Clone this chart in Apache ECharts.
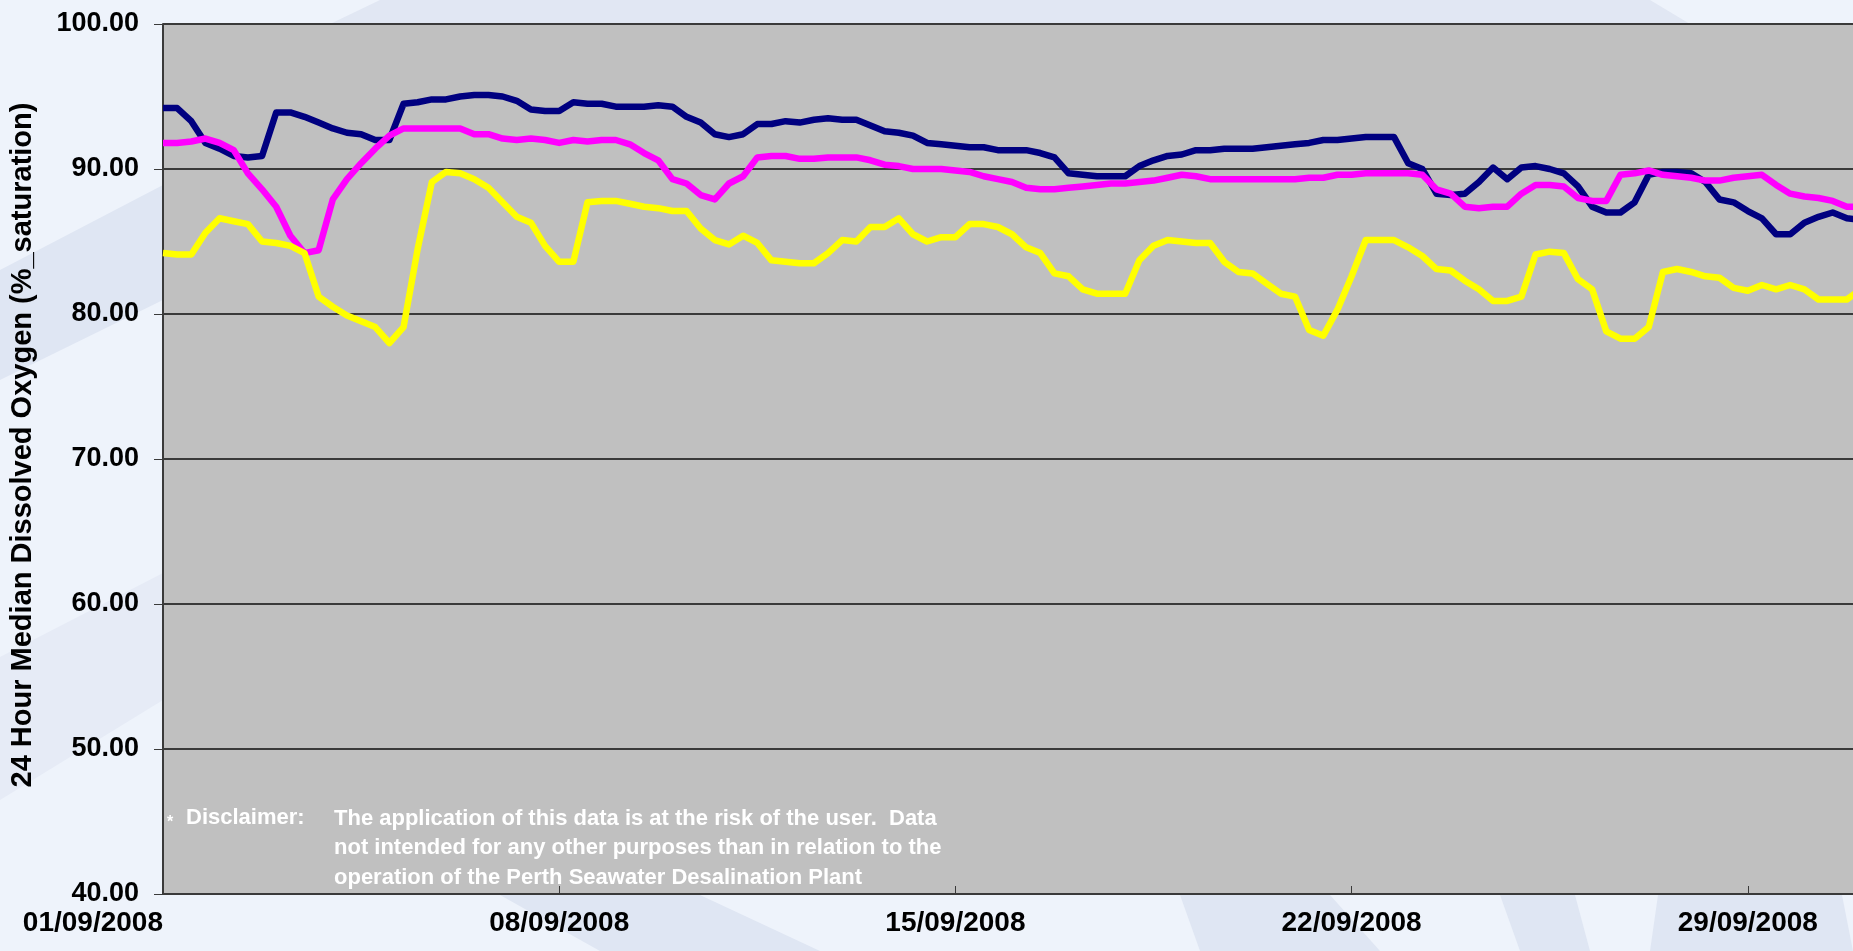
<!DOCTYPE html>
<html>
<head>
<meta charset="utf-8">
<title>24 Hour Median Dissolved Oxygen</title>
<script src="https://cdn.jsdelivr.net/npm/echarts@6.0.0/dist/echarts.min.js"></script>
<style>
  html, body { margin: 0; padding: 0; background: #eef3fb; }
  #chart { width: 1853px; height: 951px; }
</style>
</head>
<body>
<div id="chart"></div>
<script>
// x tick labels, one every 7 days from 01/09/2008
const tickLabels = ['01/09/2008', '08/09/2008', '15/09/2008', '22/09/2008', '29/09/2008']

// readings every 6 hours (0.25 day) from 01/09/2008 00:00 to 01/10/2008 00:00
const stepDays = 0.25

const navy = [
  94.2, 94.2, 93.3, 91.8, 91.4, 90.9, 90.8, 90.9, 93.9, 93.9, 93.6, 93.2,
  92.8, 92.5, 92.4, 92.0, 92.0, 94.5, 94.6, 94.8, 94.8, 95.0, 95.1, 95.1,
  95.0, 94.7, 94.1, 94.0, 94.0, 94.6, 94.5, 94.5, 94.3, 94.3, 94.3, 94.4,
  94.3, 93.6, 93.2, 92.4, 92.2, 92.4, 93.1, 93.1, 93.3, 93.2, 93.4, 93.5,
  93.4, 93.4, 93.0, 92.6, 92.5, 92.3, 91.8, 91.7, 91.6, 91.5, 91.5, 91.3,
  91.3, 91.3, 91.1, 90.8, 89.7, 89.6, 89.5, 89.5, 89.5, 90.2, 90.6, 90.9,
  91.0, 91.3, 91.3, 91.4, 91.4, 91.4, 91.5, 91.6, 91.7, 91.8, 92.0, 92.0,
  92.1, 92.2, 92.2, 92.2, 90.4, 90.0, 88.3, 88.2, 88.3, 89.1, 90.1, 89.3,
  90.1, 90.2, 90.0, 89.7, 88.8, 87.4, 87.0, 87.0, 87.7, 89.6, 89.8, 89.8,
  89.7, 89.1, 87.9, 87.7, 87.1, 86.6, 85.5, 85.5, 86.3, 86.7, 87.0, 86.6,
  86.5
]

const magenta = [
  91.8, 91.8, 91.9, 92.1, 91.8, 91.3, 89.7, 88.6, 87.4, 85.4, 84.2, 84.4,
  87.9, 89.3, 90.4, 91.4, 92.3, 92.8, 92.8, 92.8, 92.8, 92.8, 92.4, 92.4,
  92.1, 92.0, 92.1, 92.0, 91.8, 92.0, 91.9, 92.0, 92.0, 91.7, 91.1, 90.6,
  89.3, 89.0, 88.2, 87.9, 89.0, 89.5, 90.8, 90.9, 90.9, 90.7, 90.7, 90.8,
  90.8, 90.8, 90.6, 90.3, 90.2, 90.0, 90.0, 90.0, 89.9, 89.8, 89.5, 89.3,
  89.1, 88.7, 88.6, 88.6, 88.7, 88.8, 88.9, 89.0, 89.0, 89.1, 89.2, 89.4,
  89.6, 89.5, 89.3, 89.3, 89.3, 89.3, 89.3, 89.3, 89.3, 89.4, 89.4, 89.6,
  89.6, 89.7, 89.7, 89.7, 89.7, 89.6, 88.6, 88.3, 87.4, 87.3, 87.4, 87.4,
  88.3, 88.9, 88.9, 88.8, 88.0, 87.8, 87.8, 89.6, 89.7, 89.9, 89.6, 89.5,
  89.4, 89.2, 89.2, 89.4, 89.5, 89.6, 88.9, 88.3, 88.1, 88.0, 87.8, 87.4,
  87.4
]

const yellow = [
  84.2, 84.1, 84.1, 85.6, 86.6, 86.4, 86.2, 85.0, 84.9, 84.7, 84.2, 81.2,
  80.5, 79.9, 79.5, 79.1, 78.0, 79.1, 84.5, 89.1, 89.8, 89.7, 89.3, 88.7,
  87.7, 86.7, 86.3, 84.7, 83.6, 83.6, 87.7, 87.8, 87.8, 87.6, 87.4, 87.3,
  87.1, 87.1, 85.9, 85.1, 84.8, 85.4, 84.9, 83.7, 83.6, 83.5, 83.5, 84.2,
  85.1, 85.0, 86.0, 86.0, 86.6, 85.5, 85.0, 85.3, 85.3, 86.2, 86.2, 86.0,
  85.5, 84.6, 84.2, 82.8, 82.6, 81.7, 81.4, 81.4, 81.4, 83.7, 84.7, 85.1,
  85.0, 84.9, 84.9, 83.6, 82.9, 82.8, 82.1, 81.4, 81.2, 78.9, 78.5, 80.3,
  82.6, 85.1, 85.1, 85.1, 84.6, 84.0, 83.1, 83.0, 82.3, 81.7, 80.9, 80.9,
  81.2, 84.1, 84.3, 84.2, 82.4, 81.7, 78.8, 78.3, 78.3, 79.1, 82.9, 83.1,
  82.9, 82.6, 82.5, 81.8, 81.6, 82.0, 81.7, 82.0, 81.7, 81.0, 81.0, 81.0,
  81.7
]

function toPoints(values) {
  return values.map((v, i) => [i * stepDays, v])
}

function lineSeries(name, values, color) {
  return {
    name: name,
    type: 'line',
    data: toPoints(values),
    showSymbol: false,
    animation: false,
    lineStyle: { color: color, width: 6.5, join: 'round' }
  }
}

// light blue swooshes of the slide background
function band(points, fill) {
  return { type: 'polygon', z: -10, silent: true, shape: { points: points }, style: { fill: fill } }
}

const narrow = '"Liberation Sans Narrow", "Arial Narrow", "Liberation Sans", Arial, sans-serif'
const wide = '"Liberation Sans", Arial, sans-serif'

const chart = echarts.init(document.getElementById('chart'))
const option = {
  backgroundColor: '#eef3fb',
  animation: false,
  grid: {
    left: 163,
    top: 24,
    bottom: 57,
    right: -8,
    outerBoundsMode: 'none',
    show: true,
    backgroundColor: '#c0c0c0',
    borderWidth: 0
  },
  xAxis: {
    type: 'value',
    min: 0,
    max: 30,
    interval: 7,
    axisLine: { lineStyle: { color: '#3a3a3a', width: 2 } },
    axisTick: { inside: true, length: 8, lineStyle: { color: '#3a3a3a', width: 1 } },
    splitLine: { show: false },
    axisLabel: {
      margin: 15,
      alignMinLabel: 'right',
      color: '#000',
      fontFamily: narrow,
      fontWeight: 'bold',
      fontSize: 28,
      formatter: function (v) {
        const i = Math.round(v / 7)
        return (v % 7 === 0 && tickLabels[i]) ? tickLabels[i] : ''
      }
    }
  },
  yAxis: {
    type: 'value',
    min: 40,
    max: 100,
    interval: 10,
    name: '24 Hour Median Dissolved Oxygen (%_saturation)',
    nameLocation: 'middle',
    nameGap: 126,
    nameTextStyle: {
      color: '#000',
      fontFamily: wide,
      fontWeight: 'bold',
      fontSize: 29,
      padding: [0, 0, 0, 28]
    },
    axisLine: { show: true, lineStyle: { color: '#3a3a3a', width: 2 } },
    axisTick: { show: true, length: 9, lineStyle: { color: '#3a3a3a', width: 1 } },
    splitLine: { show: true, lineStyle: { color: '#3a3a3a', width: 2 } },
    axisLabel: {
      margin: 24,
      color: '#000',
      fontFamily: wide,
      fontWeight: 'bold',
      fontSize: 27,
      formatter: function (v) { return v.toFixed(2) }
    }
  },
  graphic: [
    band([[0, 270], [163, 185], [163, 300], [0, 380]], '#dfe6f3'),
    band([[0, 657], [163, 573], [163, 700], [0, 800]], '#e6ebf6'),
    band([[380, 0], [1650, 0], [1690, 24], [330, 24]], '#e1e7f3'),
    band([[500, 895], [700, 895], [820, 951], [600, 951]], '#dfe6f3'),
    band([[1180, 895], [1330, 895], [1380, 951], [1200, 951]], '#dfe6f3'),
    band([[1500, 895], [1575, 895], [1590, 951], [1520, 951]], '#dfe6f3'),
    band([[1658, 895], [1842, 895], [1853, 951], [1650, 951]], '#dfe6f3'),
    {
      type: 'text', z: 100, left: 167, top: 815,
      style: { text: '*', fill: '#fff', font: 'bold 16px ' + narrow }
    },
    {
      type: 'text', z: 100, left: 186, top: 807,
      style: { text: 'Disclaimer:', fill: '#fff', font: 'bold 22px ' + narrow }
    },
    {
      type: 'text', z: 100, left: 334, top: 804,
      style: {
        text: 'The application of this data is at the risk of the user.  Data\nnot intended for any other purposes than in relation to the\noperation of the Perth Seawater Desalination Plant',
        fill: '#fff',
        font: 'bold 22px ' + narrow,
        lineHeight: 29.5
      }
    }
  ],
  series: [
    lineSeries('Navy', navy, '#000080'),
    lineSeries('Magenta', magenta, '#ff00ff'),
    lineSeries('Yellow', yellow, '#ffff00')
  ]
}
chart.setOption(option)
</script>
</body>
</html>
